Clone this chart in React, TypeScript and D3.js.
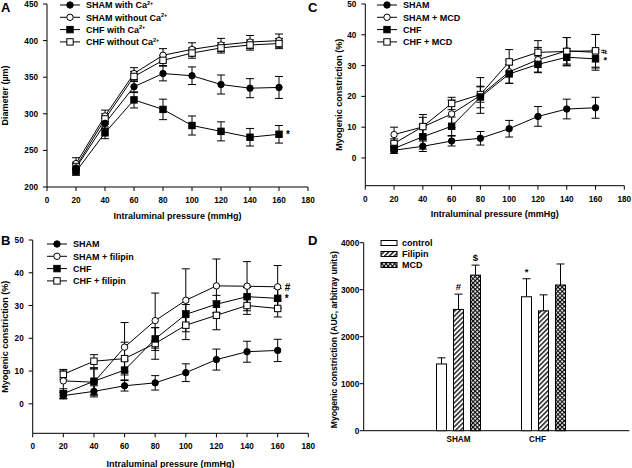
import React from "react";
import * as d3 from "d3";

const pressure = [20, 40, 60, 80, 100, 120, 140, 160];

// Panel A: diameter (µm)
const shamCa = [226, 287, 337, 355, 352, 340, 335, 336];
const shamCaErr = [6, 7, 8, 10, 12, 13, 13, 15];
const shamNoCa = [232, 297, 355, 380, 388, 394, 398, 400];
const shamNoCaErr = [8, 8, 8, 9, 9, 9, 9, 9];
const chfCa = [221, 274, 319, 306, 284, 276, 268, 272];
const chfCaErr = [5, 8, 11, 14, 13, 13, 12, 12];
const chfNoCa = [228, 293, 351, 373, 383, 390, 394, 396];
const chfNoCaErr = [6, 7, 7, 7, 7, 7, 7, 7];

// Panels B & C: myogenic constriction (%)
const sham = [2.5, 3.8, 5.5, 6.4, 9.5, 13.5, 15.9, 16.3];
const shamErr = [1.0, 1.7, 1.6, 2.2, 2.7, 3.2, 3.2, 3.4];
const chf = [3.1, 6.9, 10.3, 19.8, 27.3, 30.4, 32.7, 32.2];
const chfErr = [1.5, 4, 3, 3.5, 3, 2.7, 2.8, 3];
const shamFil = [7.0, 6.6, 17.3, 25.4, 31.6, 36.0, 35.9, 35.7];
const shamFilErr = [3, 4, 7.5, 8.4, 9.6, 8.2, 7.5, 6.5];
const chfFil = [9.0, 13.0, 13.8, 18.4, 24.0, 27.0, 30.0, 29.1];
const chfFilErr = [1.5, 2, 5, 4.8, 4.4, 4.4, 2.7, 2.6];
const shamMCD = [7.6, 10.1, 14.3, 20.3, 28.0, 31.9, 34.8, 34.3];
const shamMCDErr = [2.4, 4, 4.5, 5.8, 3.8, 4, 4.3, 5.8];
const chfMCD = [4.7, 10.2, 17.7, 20.6, 31.2, 34.3, 34.6, 34.8];
const chfMCDErr = [1.5, 3, 2, 2.5, 4, 3.8, 4.5, 5.3];

// Panel D: AUC
const groups = ["SHAM", "CHF"];
const treatments = ["control", "Filipin", "MCD"];
const aucControl = [1420, 2850];
const aucControlErr = [130, 383];
const aucFilipin = [2580, 2550];
const aucFilipinErr = [326, 340];
const aucMCD = [3310, 3100];
const aucMCDErr = [213, 447];
const aucMarks = [["", "#", "$"], ["*", "", ""]];

const xTicks = [0, 20, 40, 60, 80, 100, 120, 140, 160, 180];
const diamTicks = [200, 250, 300, 350, 400, 450];
const pctTicks = [0, 10, 20, 30, 40, 50];
const aucTicks = [0, 1000, 2000, 3000, 4000];

const FONT = "'Liberation Sans', Arial, Helvetica, sans-serif";
const FS = 9;
const TFS = 8.2;

type Marker = "fc" | "oc" | "fs" | "os";
type Series = { name: React.ReactNode; values: number[]; err: number[]; marker: Marker };

function MarkerShape({ x, y, m }: { x: number; y: number; m: Marker }) {
  const fill = m === "fc" || m === "fs" ? "#000" : "#fff";
  if (m === "fc" || m === "oc")
    return <circle cx={x} cy={y} r={3.2} fill={fill} stroke="#000" strokeWidth={1} />;
  return <rect x={x - 3.2} y={y - 3.2} width={6.4} height={6.4} fill={fill} stroke="#000" strokeWidth={1} />;
}

function Ca(label: string) {
  return (
    <>
      <tspan>{label}</tspan>
      <tspan dy={-3.5} fontSize={5.5}>2+</tspan>
    </>
  );
}

function LinePanel(props: {
  x0: number; x1: number; yTop: number; yBot: number;
  yDomain: [number, number]; yTicks: number[];
  series: Series[]; letter: string; letterX: number; letterY: number;
  yTitle: string; yTitleX: number; xTitleY: number;
  legendX: number; legendY: number;
  marks: { text: string; v: number; rotate?: boolean; dy?: number }[];
}) {
  const x = d3.scaleLinear().domain([0, 180]).range([props.x0, props.x1]);
  const y = d3.scaleLinear().domain(props.yDomain).range([props.yBot, props.yTop]);
  const line = d3.line<number>().x((_, i) => x(pressure[i])).y((v) => y(v));
  const ord = [1, 3, 2, 0];
  return (
    <g fontFamily={FONT} fontWeight="bold" fontSize={FS}>
      <line x1={props.x0} x2={props.x0} y1={props.yTop} y2={props.yBot} stroke="#000" strokeWidth={1} />
      <line x1={props.x0} x2={props.x1} y1={props.yBot} y2={props.yBot} stroke="#000" strokeWidth={1} />
      {props.yTicks.map((t) => (
        <g key={"y" + t}>
          <line x1={props.x0 - 4} x2={props.x0} y1={y(t)} y2={y(t)} stroke="#000" />
          <text x={props.x0 - 9} y={y(t) + 3} textAnchor="end" fontSize={TFS}>{t}</text>
        </g>
      ))}
      {xTicks.map((t) => (
        <g key={"x" + t}>
          <line x1={x(t)} x2={x(t)} y1={props.yBot} y2={props.yBot + 4} stroke="#000" />
          <text x={x(t)} y={props.yBot + 16} textAnchor="middle" fontSize={TFS}>{t}</text>
        </g>
      ))}
      <text x={(props.x0 + props.x1) / 2} y={props.xTitleY} textAnchor="middle">
        Intraluminal pressure (mmHg)
      </text>
      <text
        transform={`translate(${props.yTitleX},${(props.yTop + props.yBot) / 2}) rotate(-90)`}
        textAnchor="middle"
      >
        {props.yTitle}
      </text>
      <text x={props.letterX} y={props.letterY} fontSize={13}>{props.letter}</text>
      {props.series.map((s, k) => (
        <path key={"l" + k} d={line(s.values) || ""} fill="none" stroke="#000" strokeWidth={1} />
      ))}
      {ord.map((k) => {
        const s = props.series[k];
        return s.values.map((v, i) => {
          const cx = x(pressure[i]);
          const hi = y(v + s.err[i]);
          const lo = y(v - s.err[i]);
          return (
            <g key={"e" + k + i} stroke="#000" strokeWidth={1}>
              <line x1={cx} x2={cx} y1={hi} y2={lo} />
              <line x1={cx - 4} x2={cx + 4} y1={hi} y2={hi} />
              <line x1={cx - 4} x2={cx + 4} y1={lo} y2={lo} />
            </g>
          );
        });
      })}
      {ord.map((k) => {
        const s = props.series[k];
        return s.values.map((v, i) => (
          <MarkerShape key={"m" + k + i} x={x(pressure[i])} y={y(v)} m={s.marker} />
        ));
      })}
      {props.marks.map((mk, i) => {
        const mx = x(160) + 8;
        const my = y(mk.v) + (mk.dy || 0);
        return mk.rotate ? (
          <text key={"mk" + i} transform={`translate(${mx},${my}) rotate(90)`} textAnchor="middle" y={3} fontSize={9}>
            {mk.text}
          </text>
        ) : (
          <text key={"mk" + i} x={mx - 1} y={my + 4} fontSize={10}>{mk.text}</text>
        );
      })}
      {props.series.map((s, k) => {
        const ly = props.legendY + k * 12.3;
        return (
          <g key={"lg" + k}>
            <line x1={props.legendX} x2={props.legendX + 20} y1={ly} y2={ly} stroke="#000" />
            <MarkerShape x={props.legendX + 10} y={ly} m={s.marker} />
            <text x={props.legendX + 26} y={ly + 3.2}>{s.name}</text>
          </g>
        );
      })}
    </g>
  );
}

function BarPanel() {
  const x0 = 363.7, x1 = 629.3, yTop = 242.7, yBot = 430.7;
  const y = d3.scaleLinear().domain([0, 4000]).range([yBot, yTop]);
  const xg = d3.scaleBand<string>().domain(groups).range([416, 586]);
  const xt = d3.scaleBand<string>().domain(treatments).range([0, 44]).paddingInner(7 / 17);
  const vals = [aucControl, aucFilipin, aucMCD];
  const errs = [aucControlErr, aucFilipinErr, aucMCDErr];
  const fills = ["#fff", "url(#hatchDiag)", "url(#hatchCross)"];
  return (
    <g fontFamily={FONT} fontWeight="bold" fontSize={FS}>
      <line x1={x0} x2={x0} y1={yTop} y2={yBot} stroke="#000" />
      <line x1={x0} x2={x1} y1={yBot} y2={yBot} stroke="#000" />
      {aucTicks.map((t) => (
        <g key={t}>
          <line x1={x0 - 4} x2={x0} y1={y(t)} y2={y(t)} stroke="#000" />
          <text x={x0 - 4.5} y={y(t) + 3} textAnchor="end" fontSize={TFS}>{t}</text>
        </g>
      ))}
      {groups.map((g) => (
        <text key={g} x={(xg(g) || 0) + xg.bandwidth() / 2 - (g === "CHF" ? 6 : 0)} y={yBot + 11} textAnchor="middle" fontSize={TFS}>{g}</text>
      ))}
      <text transform={`translate(337,${(yTop + yBot) / 2 + 3}) rotate(-90)`} textAnchor="middle" fontSize={8.6}>
        Myogenic constriction (AUC, arbitray units)
      </text>
      <text x={308} y={245} fontSize={13}>D</text>
      {groups.map((g, gi) =>
        treatments.map((t, ti) => {
          const bx = (xg(g) || 0) + xg.bandwidth() / 2 - 22 + (xt(t) || 0);
          const bw = xt.bandwidth();
          const v = vals[ti][gi];
          const e = errs[ti][gi];
          const cx = bx + bw / 2;
          return (
            <g key={g + t}>
              <line x1={cx} x2={cx} y1={y(v)} y2={y(v + e)} stroke="#000" />
              <line x1={cx - 4} x2={cx + 4} y1={y(v + e)} y2={y(v + e)} stroke="#000" />
              <rect x={bx} y={y(v)} width={bw} height={yBot - y(v)} fill={fills[ti]} stroke="#000" strokeWidth={1} />
              {aucMarks[gi][ti] && (
                <text x={cx} y={y(v + e) - 4} textAnchor="middle" fontSize={9.5}>{aucMarks[gi][ti]}</text>
              )}
            </g>
          );
        })
      )}
      {treatments.map((t, ti) => {
        const ly = 243 + ti * 11;
        return (
          <g key={"lg" + t}>
            <rect x={381} y={ly - 2.5} width={16} height={5} fill={fills[ti]} stroke="#000" />
            <text x={402} y={ly + 3.2}>{t}</text>
          </g>
        );
      })}
    </g>
  );
}

export default function App() {
  const seriesA: Series[] = [
    { name: Ca("SHAM with Ca"), values: shamCa, err: shamCaErr, marker: "fc" },
    { name: Ca("SHAM without Ca"), values: shamNoCa, err: shamNoCaErr, marker: "oc" },
    { name: Ca("CHF with Ca"), values: chfCa, err: chfCaErr, marker: "fs" },
    { name: Ca("CHF without Ca"), values: chfNoCa, err: chfNoCaErr, marker: "os" },
  ];
  const seriesB: Series[] = [
    { name: "SHAM", values: sham, err: shamErr, marker: "fc" },
    { name: "SHAM + filipin", values: shamFil, err: shamFilErr, marker: "oc" },
    { name: "CHF", values: chf, err: chfErr, marker: "fs" },
    { name: "CHF + filipin", values: chfFil, err: chfFilErr, marker: "os" },
  ];
  const seriesC: Series[] = [
    { name: "SHAM", values: sham, err: shamErr, marker: "fc" },
    { name: "SHAM + MCD", values: shamMCD, err: shamMCDErr, marker: "oc" },
    { name: "CHF", values: chf, err: chfErr, marker: "fs" },
    { name: "CHF + MCD", values: chfMCD, err: chfMCDErr, marker: "os" },
  ];
  return (
    <svg width={632} height={468} style={{ position: "absolute", left: 0, top: 0, background: "#fff" }}>
      <defs>
        <pattern id="hatchDiag" patternUnits="userSpaceOnUse" width={3.4} height={3.4} patternTransform="rotate(45)">
          <rect width={3.4} height={3.4} fill="#fff" />
          <line x1={0.8} y1={0} x2={0.8} y2={3.4} stroke="#000" strokeWidth={1.3} />
        </pattern>
        <pattern id="hatchCross" patternUnits="userSpaceOnUse" width={3} height={3} patternTransform="rotate(45)">
          <rect width={3} height={3} fill="#fff" />
          <line x1={0.6} y1={0} x2={0.6} y2={3} stroke="#000" strokeWidth={1.1} />
          <line x1={0} y1={0.6} x2={3} y2={0.6} stroke="#000" strokeWidth={1.1} />
        </pattern>
      </defs>
      <rect width={632} height={468} fill="#fff" />
      <LinePanel
        x0={47} x1={308} yTop={4} yBot={187} yDomain={[200, 450]} yTicks={diamTicks}
        series={seriesA} letter="A" letterX={1} letterY={12}
        yTitle="Diameter (µm)" yTitleX={8} xTitleY={219}
        legendX={60} legendY={5}
        marks={[{ text: "*", v: 272 }]}
      />
      <LinePanel
        x0={32.7} x1={308.3} yTop={240} yBot={433.3} yDomain={[-9, 50]} yTicks={pctTicks}
        series={seriesB} letter="B" letterX={1} letterY={245}
        yTitle="Myogenic constriction (%)" yTitleX={8} xTitleY={467}
        legendX={47} legendY={244}
        marks={[{ text: "#", v: 35.7 }, { text: "*", v: 32.2 }]}
      />
      <LinePanel
        x0={365.3} x1={624.3} yTop={4} yBot={185.7} yDomain={[-9, 50]} yTicks={pctTicks}
        series={seriesC} letter="C" letterX={308} letterY={12}
        yTitle="Myogenic constriction (%)" yTitleX={342} xTitleY={217}
        legendX={377} legendY={5}
        marks={[{ text: "#", v: 34.8, rotate: true, dy: 1 }, { text: "*", v: 32.2, rotate: true, dy: 0 }]}
      />
      <BarPanel />
    </svg>
  );
}
